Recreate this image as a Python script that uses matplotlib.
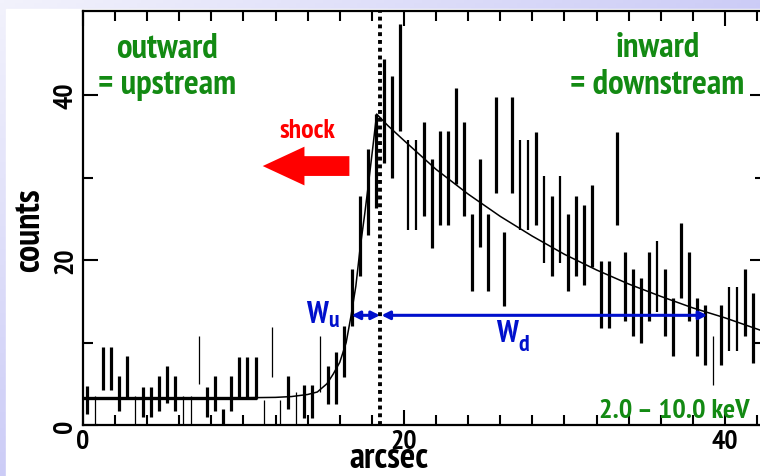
import numpy as np
import matplotlib
matplotlib.use("Agg")
import matplotlib.pyplot as plt
from matplotlib.patches import FancyArrow, Rectangle

plt.rcParams['font.family'] = ['PT Sans Narrow', 'Liberation Sans', 'DejaVu Sans']
plt.rcParams['font.weight'] = 'bold'
plt.rcParams['axes.labelweight'] = 'bold'

# counts per 0.5 arcsec bin
counts = [3.0, 1.75, 6.85, 6.85, 3.85, 5.9, 1.75, 2.8, 2.8, 3.85,
          4.9, 3.85, 1.75, 1.75, 7.9, 2.8, 3.85, 1.0, 3.85, 5.7,
          5.7, 5.7, 1.5, 8.85, 1.5, 3.95, 2.0, 2.85, 2.85, 7.4,
          4.85, 5.65, 8.9, 15.45, 22.95, 28.25, 32.0, 38.1, 36.15, 42.15,
          29.05, 29.05, 31.05, 26.85, 29.95, 29.95, 35.05, 31.05, 20.95, 26.95,
          20.95, 33.95, 18.9, 33.95, 29.05, 29.05, 29.85, 24.95, 22.95, 24.95,
          20.9, 22.95, 21.85, 24.1, 15.85, 15.85, 29.85, 16.8, 14.85, 13.9,
          16.8, 18.0, 14.85, 11.9, 19.95, 16.8, 11.9, 10.9, 7.85, 10.9,
          12.85, 12.85, 14.85, 11.75]
errors = [1.7, 1.75, 2.65, 2.65, 2.15, 2.5, 1.75, 1.8, 1.8, 2.15,
          2.2, 2.15, 1.75, 1.75, 2.9, 1.8, 2.15, 1.0, 2.15, 2.6,
          2.6, 2.6, 1.5, 3.05, 1.5, 2.05, 2.0, 1.95, 1.95, 3.4,
          2.35, 3.15, 3.1, 3.45, 4.85, 5.25, 5.7, 6.3, 6.15, 6.45,
          5.45, 5.45, 5.65, 5.35, 5.65, 5.65, 5.85, 5.65, 4.65, 5.35,
          4.65, 5.85, 4.5, 5.85, 5.45, 5.45, 5.65, 5.25, 4.85, 5.25,
          4.7, 4.85, 4.85, 5.0, 4.05, 4.05, 5.65, 4.2, 4.05, 3.9,
          4.2, 4.3, 4.05, 3.5, 4.55, 4.2, 3.5, 3.6, 2.95, 3.6,
          3.85, 3.85, 4.05, 4.25]
thin_bins = [1, 6, 12, 13, 14, 22, 23, 24, 26, 29, 78]
medium_bins = [40, 41, 54, 55, 57, 59, 71, 80, 81]

# model curve
fit_x = [0, 10, 12, 13, 14, 14.6, 15.2, 15.6, 16.0, 16.4, 16.7, 17.0, 17.26,
         17.55, 17.8, 18.05, 18.3, 19, 20, 22, 24, 26, 28, 30, 32, 34, 36,
         38, 40, 42.5]
fit_y = [3.3, 3.3, 3.35, 3.45, 3.7, 4.0, 5.0, 6.2, 7.6, 10.0, 13.2, 16.8, 21.3,
         25.5, 29.4, 33.5, 37.7, 36.3, 34.5, 31.0, 28.0, 25.3, 22.9, 20.7,
         18.8, 17.1, 15.6, 14.2, 13.0, 11.3]

bkg_level = 3.3
bkg_end = 10.7
shock_pos = 18.5
w_level = 13.3
wu_start = 16.74
wd_end = 38.9

bin_width = 0.5
arcsec = bin_width * (np.arange(len(counts)) + 0.5)
counts = np.array(counts)
errors = np.array(errors)

fig = plt.figure(figsize=(7.6, 4.77), dpi=100)

# lavender frame behind the white panel
bg = fig.add_axes([0, 0, 1, 1])
gx, gy = np.meshgrid(np.linspace(0, 1, 200), np.linspace(0, 1, 120))
t = np.clip(gx * 0.9 + gy * 0.9, 0, 1)
light = np.array([242, 242, 252]) / 255
dark = np.array([200, 200, 246]) / 255
img = light[None, None, :] * (1 - t[..., None]) + dark[None, None, :] * t[..., None]
bg.imshow(img, aspect='auto', extent=[0, 1, 1, 0])
bg.add_patch(Rectangle((6 / 760, 10 / 477), 1, 1, color='white'))
bg.set_xlim(0, 1)
bg.set_ylim(1, 0)
bg.axis('off')

ax = fig.add_axes([83 / 760, 51 / 477, 682 / 760, 414 / 477])
ax.patch.set_alpha(0)

thick = [i for i in range(len(counts)) if i not in thin_bins and i not in medium_bins]
for idx, lw in ((thick, 2.3), (medium_bins, 1.6), (thin_bins, 0.9)):
    ax.vlines(arcsec[idx], counts[idx] - errors[idx], counts[idx] + errors[idx],
              color='black', linewidth=lw)

ax.plot(fit_x, fit_y, color='black', linewidth=1.1)
ax.plot([0, bkg_end], [bkg_level, bkg_level], color='black', linewidth=2.4)
ax.axvline(shock_pos, color='black', linewidth=2.8, linestyle=(0, (1, 1)))

blue = '#0010cc'
ax.annotate('', xy=(wu_start, w_level), xytext=(shock_pos, w_level),
            arrowprops=dict(arrowstyle='<|-|>', color=blue, lw=2.2,
                            mutation_scale=12, shrinkA=0, shrinkB=0))
ax.annotate('', xy=(shock_pos + 0.1, w_level), xytext=(wd_end, w_level),
            arrowprops=dict(arrowstyle='<|-|>', color=blue, lw=2.2,
                            mutation_scale=12, shrinkA=0, shrinkB=0))

ax.text(15.26, 12.5, 'W', color=blue, fontsize=22, ha='right', va='baseline')
ax.text(15.3, 12.0, 'u', color=blue, fontsize=17, ha='left', va='baseline')
ax.text(27.1, 10.2, 'W', color=blue, fontsize=22, ha='right', va='baseline')
ax.text(27.15, 9.1, 'd', color=blue, fontsize=17, ha='left', va='baseline')

ax.add_patch(FancyArrow(16.6, 31.4, -5.4, 0, width=2.4, head_width=4.7,
                        head_length=2.6, length_includes_head=True,
                        color='#ff0000', linewidth=0))
ax.text(13.96, 34.9, 'shock', color='#ff0000', fontsize=20, ha='center', va='baseline')

green = '#138a13'
ax.text(5.23, 44.6, 'outward', color=green, fontsize=25, ha='center', va='baseline')
ax.text(5.23, 40.2, '= upstream', color=green, fontsize=25, ha='center', va='baseline')
ax.text(35.8, 44.7, 'inward', color=green, fontsize=25, ha='center', va='baseline')
ax.text(35.8, 40.2, '= downstream', color=green, fontsize=25, ha='center', va='baseline')
ax.text(41.56, 0.97, '2.0 \u2013 10.0 keV', color=green, fontsize=20.5, ha='right', va='baseline')

ax.set_xlim(0, 42.5)
ax.set_ylim(0, 50.2)
ax.set_xticks([0, 20, 40])
ax.set_xticks(np.arange(0, 43, 2), minor=True)
ax.set_yticks([0, 20, 40])
ax.set_yticks([10, 30], minor=True)
ax.tick_params(which='both', direction='in', top=True, right=True, width=1.5)
ax.tick_params(which='major', length=11, labelsize=20)
ax.tick_params(axis='x', which='major', pad=3)
ax.tick_params(axis='y', which='major', pad=4)
ax.tick_params(which='minor', length=7)
for lab in ax.get_yticklabels():
    lab.set_rotation(90)
    lab.set_va('center')
for sp in ax.spines.values():
    sp.set_linewidth(1.6)

ax.set_xlabel('arcsec', fontsize=26, va='baseline')
ax.xaxis.set_label_coords(0.449, -0.101)
ax.set_ylabel('counts', fontsize=26)
ax.yaxis.set_label_coords(-0.054, 0.473)

fig.savefig('out.png', dpi=100)
